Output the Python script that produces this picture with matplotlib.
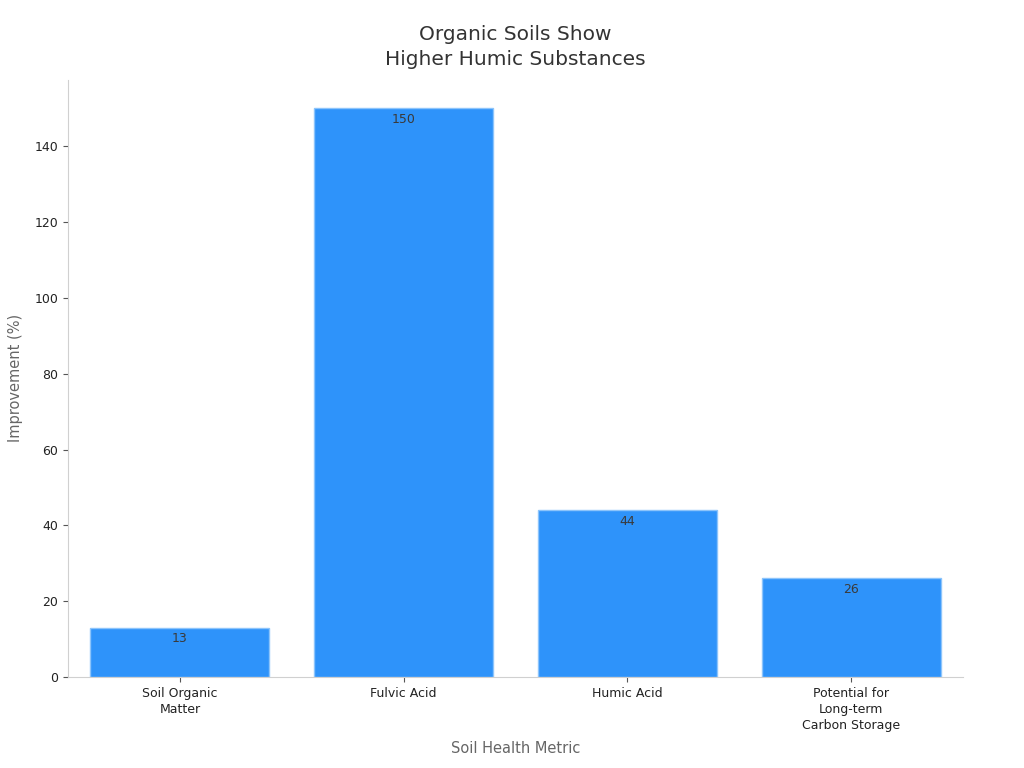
import matplotlib
matplotlib.use("Agg")
import matplotlib.pyplot as plt

categories = ["Soil Organic\nMatter", "Fulvic Acid", "Humic Acid",
              "Potential for\nLong-term\nCarbon Storage"]
values = [13, 150, 44, 26]

fig = plt.figure(figsize=(10.24, 7.68), dpi=100)
ax = fig.add_axes([0.0664, 0.1185, 0.8740, 0.7775])

x = range(len(categories))
bars = ax.bar(x, values, width=0.8, color="#2e93fa", edgecolor="#8cc4fb", linewidth=1)

for b, v in zip(bars, values):
    ax.text(b.get_x() + b.get_width() / 2, v - 1.2, str(v), ha="center", va="top",
            fontsize=9, color="#3a3a3a")

ax.set_xlim(-0.5, 3.5)
ax.set_ylim(0, 157.5)
ax.set_xticks(list(x))
ax.set_xticklabels(categories, fontsize=9, color="#222222", linespacing=1.3)
ax.tick_params(axis="y", labelsize=9, labelcolor="#222222", color="#555555")
ax.tick_params(axis="x", color="#555555")

for s in ["top", "right"]:
    ax.spines[s].set_visible(False)
for s in ["left", "bottom"]:
    ax.spines[s].set_color("#d0d0d0")

ax.set_xlabel("Soil Health Metric", fontsize=10.5, color="#666666", labelpad=7)
ax.set_ylabel("Improvement (%)", fontsize=10.5, color="#666666", labelpad=8)
ax.set_title("Organic Soils Show\nHigher Humic Substances", fontsize=14.5,
             color="#333333", pad=11, linespacing=1.4)

fig.savefig("out.png", dpi=100)
